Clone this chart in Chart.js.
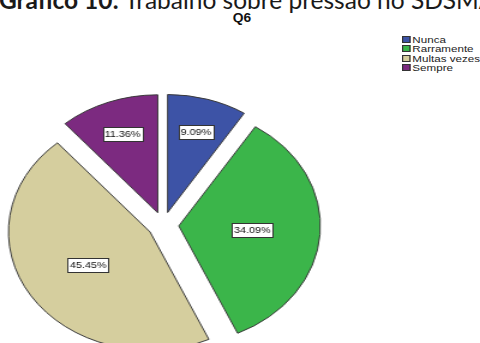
<!DOCTYPE html>
<html lang="pt">
<head>
<meta charset="UTF-8">
<title>Q6</title>
<script src="https://cdn.jsdelivr.net/npm/chart.js"></script>
<style>
    body {
        margin: 0;
        width: 480px;
        height: 343px;
        overflow: hidden;
        background: #fff;
        position: relative;
        font-family: Arial, "Liberation Sans", sans-serif;
        color: #111;
    }
    /* document caption, partly cut off at the top */
    .caption {
        position: absolute;
        left: -1px;
        top: -14px;
        font-family: Lato, "Open Sans", sans-serif;
        font-size: 24.5px;
        line-height: 28px;
        white-space: nowrap;
        color: #1a1a1a;
    }
    .title {
        position: absolute;
        left: 192px;
        top: 11px;
        width: 100px;
        text-align: center;
        font-weight: bold;
        font-size: 12px;
        transform: scaleX(1.15);
    }
    .legend {
        position: absolute;
        left: 402px;
        top: 34.5px;
        transform: scaleX(1.22);
        transform-origin: 0 0;
        font-size: 9.5px;
        color: #222;
    }
    .legend-item {
        display: flex;
        align-items: center;
        height: 9.5px;
        line-height: 9.5px;
        white-space: nowrap;
    }
    .legend-box {
        width: 5px;
        height: 5px;
        border: 1px solid #333;
        margin-right: 1.5px;
    }
    /* the pie is drawn round and stretched sideways */
    .pie-wrap {
        position: absolute;
        left: 0;
        top: 85px;
        width: 272px;
        height: 280px;
        transform: scaleX(1.2);
        transform-origin: 0 0;
    }
</style>
</head>
<body>

<div class="caption"><b>Gráfico 10:</b> Trabalho sobre pressão no SDSMA</div>
<div class="title">Q6</div>
<div class="legend" id="legend"></div>
<div class="pie-wrap"><canvas id="pieCanvas"></canvas></div>

<script>
    // Q6 answers, percent of respondents
    const categories = ['Nunca', 'Rarramente', 'Multas vezes', 'Sempre'];
    const shares = [9.09, 34.09, 45.45, 11.36];
    const sliceColors = ['#3d53a6', '#3bb54a', '#d5ce9e', '#7c2a80'];

    // how far each slice is pulled out of the pie, in px
    const explodePx = 13;

    // Legend
    const legendEl = document.getElementById('legend');
    categories.forEach((name, i) => {
        const item = document.createElement('div');
        item.className = 'legend-item';
        const box = document.createElement('div');
        box.className = 'legend-box';
        box.style.backgroundColor = sliceColors[i];
        const label = document.createElement('span');
        label.textContent = name;
        item.appendChild(box);
        item.appendChild(label);
        legendEl.appendChild(item);
    });

    function midAngle(arc) {
        const p = arc.getProps(['startAngle', 'endAngle'], true);
        return (p.startAngle + p.endAngle) / 2;
    }

    // Exploded slices: the built-in offset also grows the radius of
    // each slice, so shift the arcs ourselves instead
    const explodedArcs = {
        id: 'explodedArcs',
        beforeDatasetDraw(chart, args) {
            const ctx = chart.ctx;
            args.meta.data.forEach(arc => {
                const mid = midAngle(arc);
                ctx.save();
                ctx.translate(Math.cos(mid) * explodePx, Math.sin(mid) * explodePx);
                arc.draw(ctx, chart.chartArea);
                ctx.restore();
            });
            return false;
        }
    };

    // Boxed percentage labels inside each slice
    const sliceLabels = {
        id: 'sliceLabels',
        afterDatasetsDraw(chart) {
            const ctx = chart.ctx;
            const meta = chart.getDatasetMeta(0);
            ctx.save();
            ctx.font = '9px Arial, "Liberation Sans", sans-serif';
            ctx.textAlign = 'center';
            ctx.textBaseline = 'middle';
            ctx.lineWidth = 1;
            meta.data.forEach((arc, i) => {
                const p = arc.getProps(['x', 'y', 'outerRadius'], true);
                const mid = midAngle(arc);
                const dist = explodePx + p.outerRadius * (shares[i] < 15 ? 0.71 : 0.52);
                const x = p.x + Math.cos(mid) * dist;
                const y = p.y + Math.sin(mid) * dist;
                const text = shares[i].toFixed(2) + '%';
                const w = Math.round(ctx.measureText(text).width + 3);
                const h = 14;
                const bx = Math.round(x - w / 2) + 0.5;
                const by = Math.round(y - h / 2) + 0.5;
                ctx.fillStyle = '#fff';
                ctx.fillRect(bx, by, w, h);
                ctx.strokeStyle = '#333';
                ctx.strokeRect(bx, by, w, h);
                ctx.fillStyle = '#111';
                ctx.fillText(text, x, y + 0.5);
            });
            ctx.restore();
        }
    };

    const ctx = document.getElementById('pieCanvas').getContext('2d');
    const pieChart = new Chart(ctx, {
        type: 'pie',
        data: {
            labels: categories,
            datasets: [{
                data: shares,
                backgroundColor: sliceColors,
                borderColor: '#3a3a3a',
                borderWidth: 1,
                offset: 0,
                hoverOffset: 0,
                radius: 118
            }]
        },
        options: {
            responsive: true,
            maintainAspectRatio: false,
            animation: false,
            events: [],
            radius: 118,
            layout: { padding: 0 },
            plugins: {
                legend: { display: false },
                tooltip: { enabled: false }
            }
        },
        plugins: [explodedArcs, sliceLabels]
    });
</script>

</body>
</html>
